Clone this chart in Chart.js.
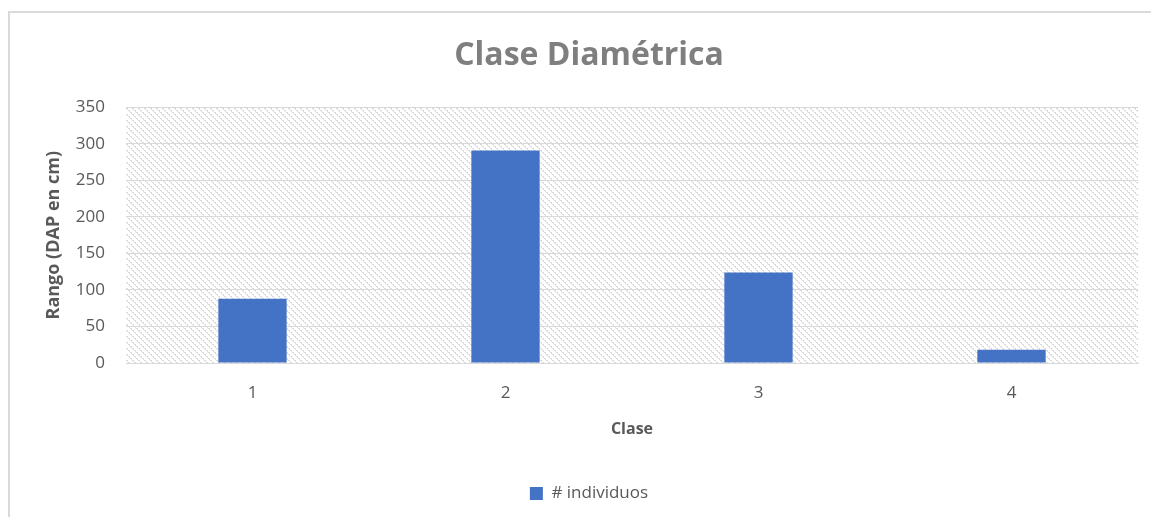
<!DOCTYPE html>
<html>
<head>
<meta charset="utf-8">
<script src="https://cdn.jsdelivr.net/npm/chart.js@4/dist/chart.umd.min.js"></script>
<style>
  html, body { margin: 0; padding: 0; background: #ffffff; overflow: hidden; }
  #wrap { position: absolute; left: 0; top: 0; width: 1151px; height: 517px; }
  #frame { position: absolute; left: 8px; top: 11px; width: 1200px; height: 600px;
           border-left: 2px solid #d9d9d9; border-top: 2px solid #d9d9d9; box-sizing: border-box; }
</style>
</head>
<body>
<div id="wrap">
  <div id="frame"></div>
  <canvas id="c" width="1151" height="517"></canvas>
</div>
<script>
const categories = ['1', '2', '3', '4'];
const individuos = [88, 291, 124, 18];
const yTicks = [0, 50, 100, 150, 200, 250, 300, 350];

const FONT = "'Open Sans', 'Noto Sans', sans-serif";
const PLOT_BOTTOM = 363;
const PAD_BOTTOM = 5;

function hatchPattern() {
  const p = document.createElement('canvas');
  p.width = 6; p.height = 6;
  const g = p.getContext('2d');
  g.fillStyle = '#ffffff';
  g.fillRect(0, 0, 6, 6);
  g.fillStyle = '#dcdcdc';
  for (let i = 0; i < 6; i++) {
    g.fillRect(i, i, 1, 1);
    if (i % 2 === 0) g.fillRect((i + 1) % 6, i, 1, 1);
  }
  return g.createPattern(p, 'repeat');
}

const plotBg = {
  id: 'plotBg',
  beforeDraw(chart) {
    const a = chart.chartArea;
    const ctx = chart.ctx;
    ctx.save();
    ctx.fillStyle = hatchPattern();
    ctx.fillRect(a.left, a.top, a.right - a.left, a.bottom - a.top);
    ctx.restore();
  }
};

new Chart(document.getElementById('c'), {
  type: 'bar',
  data: {
    labels: categories,
    datasets: [{
      label: '# individuos',
      data: individuos,
      backgroundColor: '#4472C4',
      borderWidth: 0,
      categoryPercentage: 1.0,
      barPercentage: 0.27
    }]
  },
  options: {
    responsive: false,
    animation: false,
    devicePixelRatio: 1,
    layout: { padding: { top: 13, left: 40, right: 13, bottom: PAD_BOTTOM } },
    plugins: {
      title: {
        display: true,
        text: 'Clase Diamétrica',
        color: '#7f7f7f',
        font: { family: FONT, size: 32, weight: 'bold' },
        padding: { top: 24, bottom: 32 }
      },
      legend: {
        position: 'bottom',
        labels: {
          color: '#595959',
          font: { family: FONT, size: 17 },
          boxWidth: 13, boxHeight: 13,
          padding: 10
        }
      },
      tooltip: { enabled: false }
    },
    scales: {
      x: {
        grid: { display: false, drawTicks: false },
        border: { display: true, color: '#d9d9d9', width: 1 },
        ticks: { color: '#595959', font: { family: FONT, size: 17 }, padding: 20 },
        title: {
          display: true, text: 'Clase', color: '#595959',
          font: { family: FONT, size: 16, weight: 'bold' },
          padding: { top: 0, bottom: 36 }
        },
        afterFit(s) {
          const lh = s.chart.legend ? s.chart.legend.height : 38;
          s.height = s.chart.height - PAD_BOTTOM - lh - PLOT_BOTTOM;
        }
      },
      y: {
        min: 0, max: 350,
        afterBuildTicks(s) { s.ticks = yTicks.map(v => ({ value: v })); },
        grid: { color: '#d9d9d9', lineWidth: 1, drawTicks: false },
        border: { display: false },
        ticks: { color: '#595959', font: { family: FONT, size: 17 }, padding: 21 },
        title: {
          display: true, text: 'Rango (DAP en cm)', color: '#595959',
          font: { family: FONT, size: 18, weight: 'bold' },
          padding: { top: 3, bottom: 0 }
        },
        afterFit(s) { s.width = 86; }
      }
    }
  },
  plugins: [plotBg]
});
</script>
</body>
</html>
